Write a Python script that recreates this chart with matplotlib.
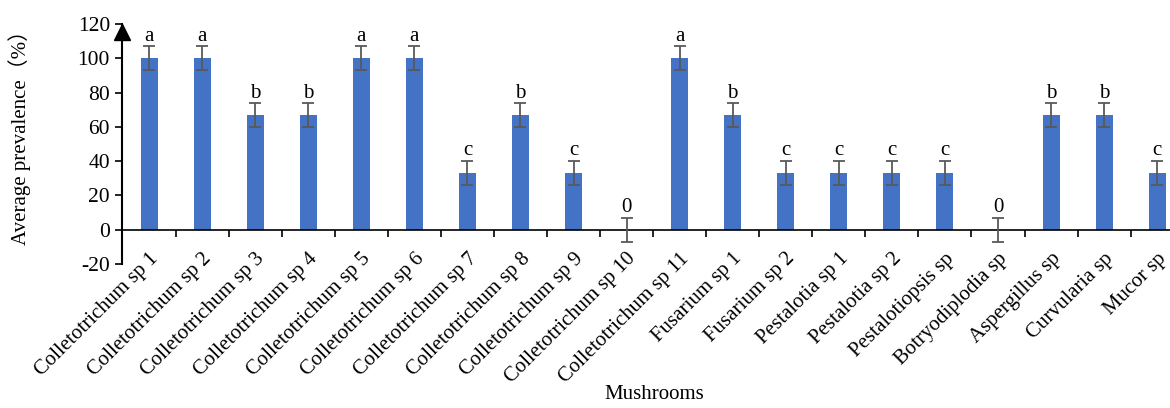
import matplotlib
matplotlib.use("Agg")
import matplotlib.pyplot as plt
import numpy as np

species = ["Colletotrichum sp 1", "Colletotrichum sp 2", "Colletotrichum sp 3",
           "Colletotrichum sp 4", "Colletotrichum sp 5", "Colletotrichum sp 6",
           "Colletotrichum sp 7", "Colletotrichum sp 8", "Colletotrichum sp 9",
           "Colletotrichum sp 10", "Colletotrichum sp 11", "Fusarium sp 1",
           "Fusarium sp 2", "Pestalotia sp 1", "Pestalotia sp 2",
           "Pestalotiopsis sp", "Botryodiplodia sp", "Aspergillus sp",
           "Curvularia sp", "Mucor sp"]
prevalence = [100, 100, 66.67, 66.67, 100, 100, 33.33, 66.67, 33.33, 0,
              100, 66.67, 33.33, 33.33, 33.33, 33.33, 0, 66.67, 66.67, 33.33]
errors = [7] * 20
letters = ["a", "a", "b", "b", "a", "a", "c", "b", "c", "0",
           "a", "b", "c", "c", "c", "c", "0", "b", "b", "c"]

plt.rcParams["font.family"] = ["Liberation Serif", "Noto Sans CJK SC", "DejaVu Serif"]
plt.rcParams["font.size"] = 15
plt.rcParams["axes.unicode_minus"] = False

fig = plt.figure(figsize=(11.7, 4.08), dpi=100)
# the plot area runs past the right edge of the figure, as in the source image
ax = fig.add_axes([0.1047, 0.353, 0.907, 0.588])

# spine position first: moving it resets the ticks
ax.spines["bottom"].set_position(("data", 0))
ax.spines["bottom"].set_linewidth(1.2)
ax.spines["left"].set_linewidth(1.5)
ax.spines["top"].set_visible(False)
ax.spines["right"].set_visible(False)

x = np.arange(len(species))
ax.bar(x, prevalence, width=0.32, color="#4472C4", zorder=2)
ax.errorbar(x, prevalence, yerr=errors, fmt="none", ecolor="#595959",
            elinewidth=1.3, capsize=4, capthick=1.3, zorder=3)
for xi, v, e, lab in zip(x, prevalence, errors, letters):
    ax.text(xi, v + e + 0.3, lab, ha="center", va="bottom", fontsize=15)

ax.set_xlim(-0.5, len(species) - 0.5)
ax.set_ylim(-20, 120)
ax.set_yticks(np.arange(-20, 121, 20))
ax.tick_params(axis="y", direction="out", length=5, width=1.2, labelsize=15.5, pad=4)

ax.set_xticks(x)
ax.set_xticks(x[:-1] + 0.5, minor=True)
ax.tick_params(axis="x", which="major", length=0, pad=14, labelsize=15)
ax.tick_params(axis="x", which="minor", direction="out", length=5, width=1.2)
ax.set_xticklabels(species, rotation=45, ha="right", va="top",
                   rotation_mode="anchor")

ax.plot(0, 115.3, marker="^", color="black", markersize=11,
        transform=ax.get_yaxis_transform(), clip_on=False, zorder=5)

ax.set_ylabel("Average prevalence（%）", fontsize=15)
ax.yaxis.set_label_coords(-0.086, 0.546)
fig.text(0.559, 0.032, "Mushrooms", ha="center", va="center", fontsize=15)

fig.savefig("out.png", dpi=100)
